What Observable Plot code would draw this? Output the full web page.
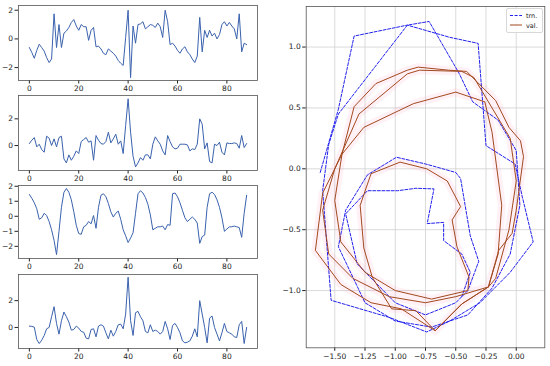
<!DOCTYPE html>
<html><head><meta charset="utf-8">
<script src="https://cdn.jsdelivr.net/npm/d3@7"></script>
<script src="https://cdn.jsdelivr.net/npm/@observablehq/plot@0.6"></script>
<style>
html,body{margin:0;padding:0;background:#fff;}
#wrap{position:relative;width:550px;height:366px;overflow:hidden;font-family:"DejaVu Sans",sans-serif;}
#wrap svg{position:absolute;overflow:visible;}
#legend{position:absolute;left:506px;top:8px;width:35px;height:23px;border:1px solid #d8d8d8;border-radius:2px;background:rgba(255,255,255,0.85);font-size:6.5px;color:#222;}
</style></head>
<body><div id="wrap"></div>
<script>
// ---- data ----
const steps = d3.range(89); // time index 0..88
const series1 = [-0.6,-0.95,-1.35,-0.8,-0.37,-0.6,-0.85,-1.3,-1.65,-1.4,
 1.75,-0.6,1.0,-0.6,0.4,0.55,0.8,1.15,1.35,0.9,
 0.6,1.0,0.85,0.85,-0.1,0.6,0.8,-0.55,-0.5,-0.7,
 -1.0,-1.1,-0.7,-0.85,-1.0,-1.2,-1.5,-1.7,-1.85,0.1,
 2.0,-2.7,0.9,-0.3,1.0,1.05,1.2,0.7,0.85,1.0,
 0.95,0.8,1.1,0.85,0.1,2.0,1.2,-0.4,-0.3,-0.5,
 -0.8,-1.0,-0.7,-0.55,-0.9,-1.1,-1.4,-1.65,-1.2,1.5,
 -0.9,0.6,0.1,0.6,0.2,0.4,0.0,0.3,1.0,1.2,
 0.9,1.15,0.9,0.7,0.0,1.75,-0.9,-0.3,-0.4];
const series2 = [0.15,0.4,0.6,-0.1,0.1,-0.3,-0.5,0.7,0.55,0.0,
 0.5,-0.1,0.6,0.7,-1.0,-1.3,-0.7,-1.1,-0.8,-0.4,
 -0.6,0.3,0.45,0.6,0.25,0.35,-1.1,0.75,0.4,0.15,
 0.1,0.3,1.0,0.2,0.5,0.85,0.1,0.35,-0.6,1.5,
 3.5,1.0,-0.8,-1.6,-1.3,-0.9,-1.1,-0.7,-0.7,-1.0,
 0.1,0.65,0.35,0.1,-0.4,-0.7,0.75,0.3,-0.1,-0.25,
 -0.2,0.1,0.1,0.1,0.05,-0.4,-0.25,-0.3,0.1,2.0,
 1.6,-0.25,0.2,-1.2,-1.3,0.1,0.0,0.25,-0.5,-0.7,
 0.2,0.15,0.15,0.2,0.15,-0.2,0.75,-0.15,0.15];
const series3 = [1.45,1.2,0.9,0.5,-0.2,-0.1,0.2,0.05,-0.35,-0.9,
 -1.6,-2.55,-1.0,0.6,1.6,1.85,1.6,1.1,0.3,-0.6,
 -1.15,-1.2,-0.7,-0.6,-0.35,-0.5,0.05,-0.8,0.6,1.4,
 1.5,1.3,0.85,0.3,-0.05,0.2,0.35,-0.2,-0.9,-1.3,
 -1.75,-1.45,-1.1,0.2,1.5,1.7,1.55,1.25,0.8,0.1,
 -0.9,-0.8,-0.7,-0.7,-0.65,-0.9,-0.55,-0.6,1.5,1.55,
 1.3,0.9,0.4,-0.1,-0.35,-0.2,-0.05,-0.2,-0.45,-1.8,
 -1.35,-1.25,0.6,1.5,1.6,1.45,1.1,0.6,-0.1,-1.0,
 -0.85,-0.7,-0.7,-0.65,-0.7,-0.75,-1.4,0.2,1.4];
const series4 = [0.1,0.08,0.02,-0.9,-1.2,-0.95,-0.6,-0.1,0.0,0.8,
 1.55,0.3,-0.5,0.5,1.15,0.8,0.4,-0.2,-0.15,0.1,
 -0.05,-0.3,-0.35,-0.8,-0.85,-0.15,-0.1,-0.7,0.1,0.2,
 0.1,-0.4,-0.85,-0.2,-0.65,-0.3,0.2,0.25,-0.1,1.0,
 3.75,0.5,-0.6,1.1,1.2,0.8,0.5,-0.3,-0.4,0.2,
 -0.3,-0.2,-0.3,-0.5,-0.3,0.45,-0.1,-0.9,0.15,0.3,
 0.0,-0.4,-1.0,-1.15,-1.1,-1.0,-0.65,-0.1,-0.7,2.0,
 1.0,0.0,-1.15,0.7,0.85,0.0,-0.5,-1.0,-0.4,0.3,
 -0.3,-0.4,-0.5,-0.7,-0.75,0.2,0.45,-1.2,0.0];
const xTicksLeft = [0,20,40,60,80];
const yTicks1 = [-2,0,2], yTicks2 = [0,2], yTicks3 = [-2,-1,0,1,2], yTicks4 = [0,2];

const trnX = [-1.62,-1.47,-1.34,-0.90,-0.55,-0.315,-0.25,-0.01,0.05,0.14,-0.05,-0.30,-0.55,-0.74,-1.05,-1.53,-1.60,-1.55,-1.47,-0.90,-0.72,-0.47,-0.36,-0.15,0.0,0.03,-0.05,-0.20,-0.40,-0.70,-1.00,-1.25,-1.47,-1.41,-1.23,-0.99,-0.75,-0.50,-0.46,-0.38,-0.31,-0.40,-0.50,-0.75,-1.00,-1.315,-1.41,-1.23,-0.98,-0.83,-0.68,-0.736,-0.60,-0.60,-0.45,-0.38,-0.45];
const trnY = [-0.03,0.49,1.09,1.18,1.08,1.03,0.19,0.04,-0.23,-0.60,-0.85,-1.10,-1.25,-1.34,-1.22,-1.08,-0.18,0.20,0.45,1.18,1.21,0.78,0.55,0.40,0.15,-0.30,-0.70,-0.98,-1.20,-1.30,-1.25,-1.10,-0.64,-0.34,-0.05,0.095,0.04,-0.03,-0.08,-0.55,-0.76,-1.00,-1.10,-1.20,-1.10,-0.78,-0.37,-0.18,-0.18,-0.16,-0.165,-0.45,-0.44,-0.59,-0.70,-0.85,-1.05];
const valX = [-0.23,-0.145,-0.034,0.0,0.06,0.035,-0.06,-0.17,-0.32,-0.41,-0.56,-0.81,-0.90,-1.16,-1.34,-1.44,-1.60,-1.66,-1.45,-1.20,-0.95,-0.67,-0.45,-0.23,
 -0.17,-0.06,0.0,-0.05,-0.20,-0.35,-0.45,-0.80,-0.90,-1.30,-1.50,-1.60,-1.55,-1.35,-1.05,-0.75,-0.50,-0.23,
 -0.15,-0.12,-0.20,-0.26,-0.50,-0.85,-1.26,-1.44,-1.50,-1.45,-1.25,-1.00,-0.70,-0.40,
 -0.39,-0.49,-0.53,-0.46,-0.57,-0.74,-0.96,-1.20,-1.29,-1.26,-1.19,-1.03,-0.83,-0.67,-0.45,-0.23];
const valY = [-0.97,-0.67,-0.53,-0.34,0.10,0.23,0.34,0.56,0.71,0.80,0.81,0.835,0.81,0.70,0.51,0.12,-0.20,-0.67,-0.95,-1.10,-1.15,-1.33,-1.11,-0.97,
 -0.90,-0.50,-0.10,0.25,0.50,0.75,0.80,0.81,0.78,0.45,0.0,-0.34,-0.70,-0.90,-1.05,-1.10,-1.05,-0.97,
 -0.70,-0.30,0.30,0.55,0.63,0.535,0.34,0.12,-0.26,-0.60,-0.85,-1.00,-1.07,-1.00,
 -0.89,-0.64,-0.42,-0.31,-0.10,0.0,0.055,-0.04,-0.30,-0.65,-0.89,-1.15,-1.165,-1.33,-1.11,-0.97];
const xTicksRight = [-1.5,-1.25,-1.0,-0.75,-0.5,-0.25,0.0];
const yTicksRight = [-1.0,-0.5,0.0,0.5,1.0];

// ---- drawing ----
const wrap = document.getElementById("wrap");
const font = {fontFamily:"DejaVu Sans", fontSize:"7.5px", color:"#222", background:"transparent", overflow:"visible"};
const lineColor = "#3a62ad";

function leftPlot(vals, top, mt, frameH, yDomain, yTicks) {
  const h = mt + frameH + 16;
  const data = steps.map((t,i)=>({t, v: vals[i]}));
  const svg = Plot.plot({
    width: 262, height: h, marginLeft: 18, marginRight: 5, marginTop: mt, marginBottom: h - mt - frameH,
    style: font,
    x: {domain:[-4.4,92.4]},
    y: {domain: yDomain},
    marks: [
      Plot.axisX({ticks: xTicksLeft, tickSize: 3.5, tickPadding: 2, label: null, tickFormat: d3.format("d")}),
      Plot.axisY({ticks: yTicks, tickSize: 3.5, tickPadding: 2, label: null, tickFormat: d3.format("d")}),
      Plot.line(data, {x:"t", y:"v", stroke: lineColor, strokeWidth: 1}),
      Plot.frame({stroke:"#555", strokeWidth: 0.8})
    ]
  });
  svg.style.left = "0px"; svg.style.top = top + "px";
  wrap.appendChild(svg);
}
leftPlot(series1, 0, 5, 75, [-2.9, 2.33], yTicks1);
leftPlot(series2, 90, 5, 75, [-1.87, 3.75], yTicks2);
leftPlot(series3, 180, 5, 73, [-2.81, 2.05], yTicks3);
leftPlot(series4, 270, 4, 74, [-1.57, 3.95], yTicks4);

const trn = trnX.map((x,i)=>({x, y: trnY[i]}));
const val = valX.map((x,i)=>({x, y: valY[i]}));
const right = Plot.plot({
  width: 275, height: 366, marginLeft: 30.7, marginRight: 5.7, marginTop: 6, marginBottom: 18.7,
  style: font,
  x: {domain: [-1.736, 0.236]},
  y: {domain: [-1.47, 1.333]},
  marks: [
    Plot.gridX(xTicksRight, {stroke:"#d0d0d0", strokeOpacity:1, strokeWidth:0.8}),
    Plot.gridY(yTicksRight, {stroke:"#d0d0d0", strokeOpacity:1, strokeWidth:0.8}),
    Plot.axisX({ticks: xTicksRight, tickSize: 3.5, tickPadding: 2, label: null, tickFormat: d3.format(".2f")}),
    Plot.axisY({ticks: yTicksRight, tickSize: 3.5, tickPadding: 2, label: null, tickFormat: d3.format(".1f")}),
    Plot.line(val, {x:"x", y:"y", stroke:"#ff8fb8", strokeWidth: 8, strokeOpacity: 0.12, curve:"linear"}),
    Plot.line(trn, {x:"x", y:"y", stroke:"#2222ee", strokeWidth: 1, strokeDasharray:"3,1.6"}),
    Plot.line(val, {x:"x", y:"y", stroke:"#a2491f", strokeWidth: 1}),
    Plot.frame({stroke:"#555", strokeWidth: 0.8})
  ]
});
right.style.left = "275px"; right.style.top = "0px";
wrap.appendChild(right);

// legend
const leg = document.createElement("div");
leg.id = "legend";
leg.innerHTML = `<svg width="35" height="23" style="position:absolute;left:0;top:0;overflow:visible">
 <line x1="3" y1="6.5" x2="15" y2="6.5" stroke="#2222ee" stroke-width="1" stroke-dasharray="3,1.6"/>
 <text x="19" y="9" font-size="6.5" font-family="DejaVu Sans" fill="#222">trn.</text>
 <line x1="3" y1="16" x2="15" y2="16" stroke="#a2491f" stroke-width="1"/>
 <text x="19" y="18.5" font-size="6.5" font-family="DejaVu Sans" fill="#222">val.</text>
</svg>`;
wrap.appendChild(leg);
</script></body></html>
